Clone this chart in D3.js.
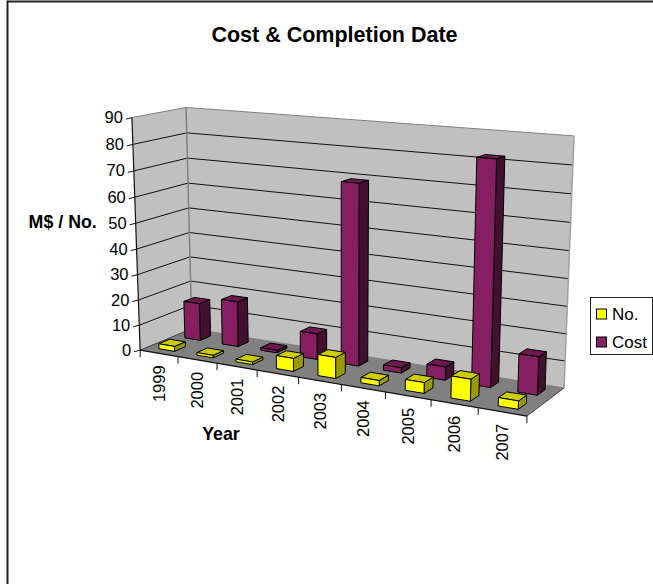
<!DOCTYPE html>
<html>
<head>
<meta charset="utf-8">
<style>html,body{margin:0;padding:0;background:#fff}svg{display:block}text{font-family:"Liberation Sans",Arial,sans-serif;fill:#000}</style>
<script src="https://cdn.jsdelivr.net/npm/d3@7"></script>
</head>
<body>
<script>
const years = ["1999","2000","2001","2002","2003","2004","2005","2006","2007"];
const noValues = [2,1,1,5,8,2,4,8,3];
const costValues = [15,18,1,10,69,2,5,82,14];
const seriesNames = ["No.","Cost"];
const yTicks = [0,10,20,30,40,50,60,70,80,90];

const W=653,H=584;
const svg=d3.select("body").append("svg").attr("width",W).attr("height",H);

// Camera fit: world (x 0-1, y 0-1, z 0-1) to screen, solved from the wall corners
const anchors=[
 [0,0,0,140,349],[0,1,0,132,118],[0,0,1,192,330],[0,1,1,186,107],
 [1,0,1,564,387],[1,1,1,574,136],[1,0,0,527,417]];
function solveCamera(pts){
  const A=[],b=[];
  pts.forEach(([x,y,z,u,v])=>{
    A.push([x,y,z,1,0,0,0,0,-u*x,-u*y,-u*z]);b.push(u);
    A.push([0,0,0,0,x,y,z,1,-v*x,-v*y,-v*z]);b.push(v);
  });
  const n=11,M=d3.range(n).map(i=>d3.range(n+1).map(j=>{
    let s=0;A.forEach((r,k)=>{s+=r[i]*(j<n?r[j]:b[k]);});return s;}));
  for(let i=0;i<n;i++){
    let p=i;for(let r=i+1;r<n;r++)if(Math.abs(M[r][i])>Math.abs(M[p][i]))p=r;
    [M[i],M[p]]=[M[p],M[i]];
    for(let r=0;r<n;r++)if(r!==i){const f=M[r][i]/M[i][i];for(let c=i;c<=n;c++)M[r][c]-=f*M[i][c];}
  }
  return M.map((r,i)=>r[n]/r[i]);
}
const P=solveCamera(anchors);
const proj=(x,y,z)=>{const w=P[8]*x+P[9]*y+P[10]*z+1;
  return [(P[0]*x+P[1]*y+P[2]*z+P[3])/w,(P[4]*x+P[5]*y+P[6]*z+P[7])/w];};

const xBand=d3.scaleBand().domain(years).range([0,1]).paddingInner(0.585).paddingOuter(0.2925);
const zBand=d3.scaleBand().domain(seriesNames).range([0,1]).paddingInner(0.585).paddingOuter(0.2925);
const yScale=d3.scaleLinear().domain([0,90]).range([0,1]);
const poly=(pts,fill,stroke,sw)=>svg.append("polygon").attr("points",pts.map(p=>p.join(",")).join(" "))
  .attr("fill",fill).attr("stroke",stroke||"none").attr("stroke-width",sw||1).attr("stroke-linejoin","round");
const line=(a,b,stroke,sw)=>svg.append("line").attr("x1",a[0]).attr("y1",a[1]).attr("x2",b[0]).attr("y2",b[1])
  .attr("stroke",stroke).attr("stroke-width",sw||1);

// Page frame (only top and left are visible)
line([7.5,1.5],[W,1.5],"#222",2);
line([7.5,0.5],[7.5,H],"#222",2);

// Title
svg.append("text").attr("x",334.5).attr("y",41.5).attr("text-anchor","middle").attr("font-weight","bold").attr("font-size",21.5).text("Cost & Completion Date");

// Walls and floor
poly([proj(0,0,0),proj(0,1,0),proj(0,1,1),proj(0,0,1)],"#c0c0c0");
poly([proj(0,0,1),proj(0,1,1),proj(1,1,1),proj(1,0,1)],"#c0c0c0");
poly([proj(0,0,0),proj(0,0,1),proj(1,0,1),proj(1,0,0)],"#808080");
yTicks.forEach(v=>{
  const y=yScale(v);
  const stroke=(v===0||v===90)?"#808080":"#111";
  line(proj(0,y,0),proj(0,y,1),stroke,1);
  line(proj(0,y,1),proj(1,y,1),stroke,1);
});
line(proj(0,0,1),proj(0,1,1),"#808080",1.5);
line(proj(1,0,1),proj(1,1,1),"#a0a0a0",1.5);
line(proj(1,0,0),proj(1,0,1),"#444",1);
line(proj(0,0,0),proj(0,0,1),"#444",1);

// Bars
const palette={"No.":{front:"#ffff00",top:"#cccc00",side:"#999900"},
               "Cost":{front:"#861f61",top:"#6b194e",side:"#431030"}};
function bar(year,series,val){
  const x0=xBand(year),x1=x0+xBand.bandwidth(),z0=zBand(series),z1=z0+zBand.bandwidth(),h=yScale(val),c=palette[series];
  poly([proj(x1,0,z0),proj(x1,h,z0),proj(x1,h,z1),proj(x1,0,z1)],c.side,"#000",1);
  poly([proj(x0,h,z0),proj(x0,h,z1),proj(x1,h,z1),proj(x1,h,z0)],c.top,"#000",1);
  poly([proj(x0,0,z0),proj(x0,h,z0),proj(x1,h,z0),proj(x1,0,z0)],c.front,"#000",1);
}
years.forEach((yr,i)=>bar(yr,"Cost",costValues[i]));
years.forEach((yr,i)=>bar(yr,"No.",noValues[i]));

// Value axis
line(proj(0,0,0),proj(0,1,0),"#111",1.2);
yTicks.forEach(v=>{
  const a=proj(0,yScale(v),0);
  line([a[0]-6,a[1]+1.5],a,"#111",1);
  svg.append("text").attr("x",a[0]-9).attr("y",a[1]+5.5).attr("text-anchor","end").attr("font-size",16.5).text(v);
});

// Category axis
line(proj(0,0,0),proj(1,0,0),"#111",1.2);
d3.range(years.length+1).forEach(i=>{
  const a=proj(i/years.length,0,0);
  line(a,[a[0],a[1]+7],"#111",1);
});
years.forEach(yr=>{
  const a=proj(xBand(yr)+xBand.bandwidth()/2,0,0);
  svg.append("text").attr("transform",`translate(${a[0]+6},${a[1]+12}) rotate(-90)`)
    .attr("text-anchor","end").attr("font-size",16.5).text(yr);
});

// Axis titles
svg.append("text").attr("x",62.7).attr("y",228).attr("text-anchor","middle").attr("font-weight","bold").attr("font-size",17.8).text("M$ / No.");
svg.append("text").attr("x",221).attr("y",440).attr("text-anchor","middle").attr("font-weight","bold").attr("font-size",17.8).text("Year");

// Legend
svg.append("rect").attr("x",590.5).attr("y",297.5).attr("width",62).attr("height",57).attr("fill","#fff").attr("stroke","#222");
seriesNames.forEach((s,i)=>{
  const y=307.5+i*28;
  svg.append("rect").attr("x",596.5).attr("y",y+1.5).attr("width",10).attr("height",10).attr("fill",palette[s].front).attr("stroke","#000");
  svg.append("text").attr("x",612).attr("y",y+12.5).attr("font-size",17).text(s);
});
</script>
</body>
</html>
